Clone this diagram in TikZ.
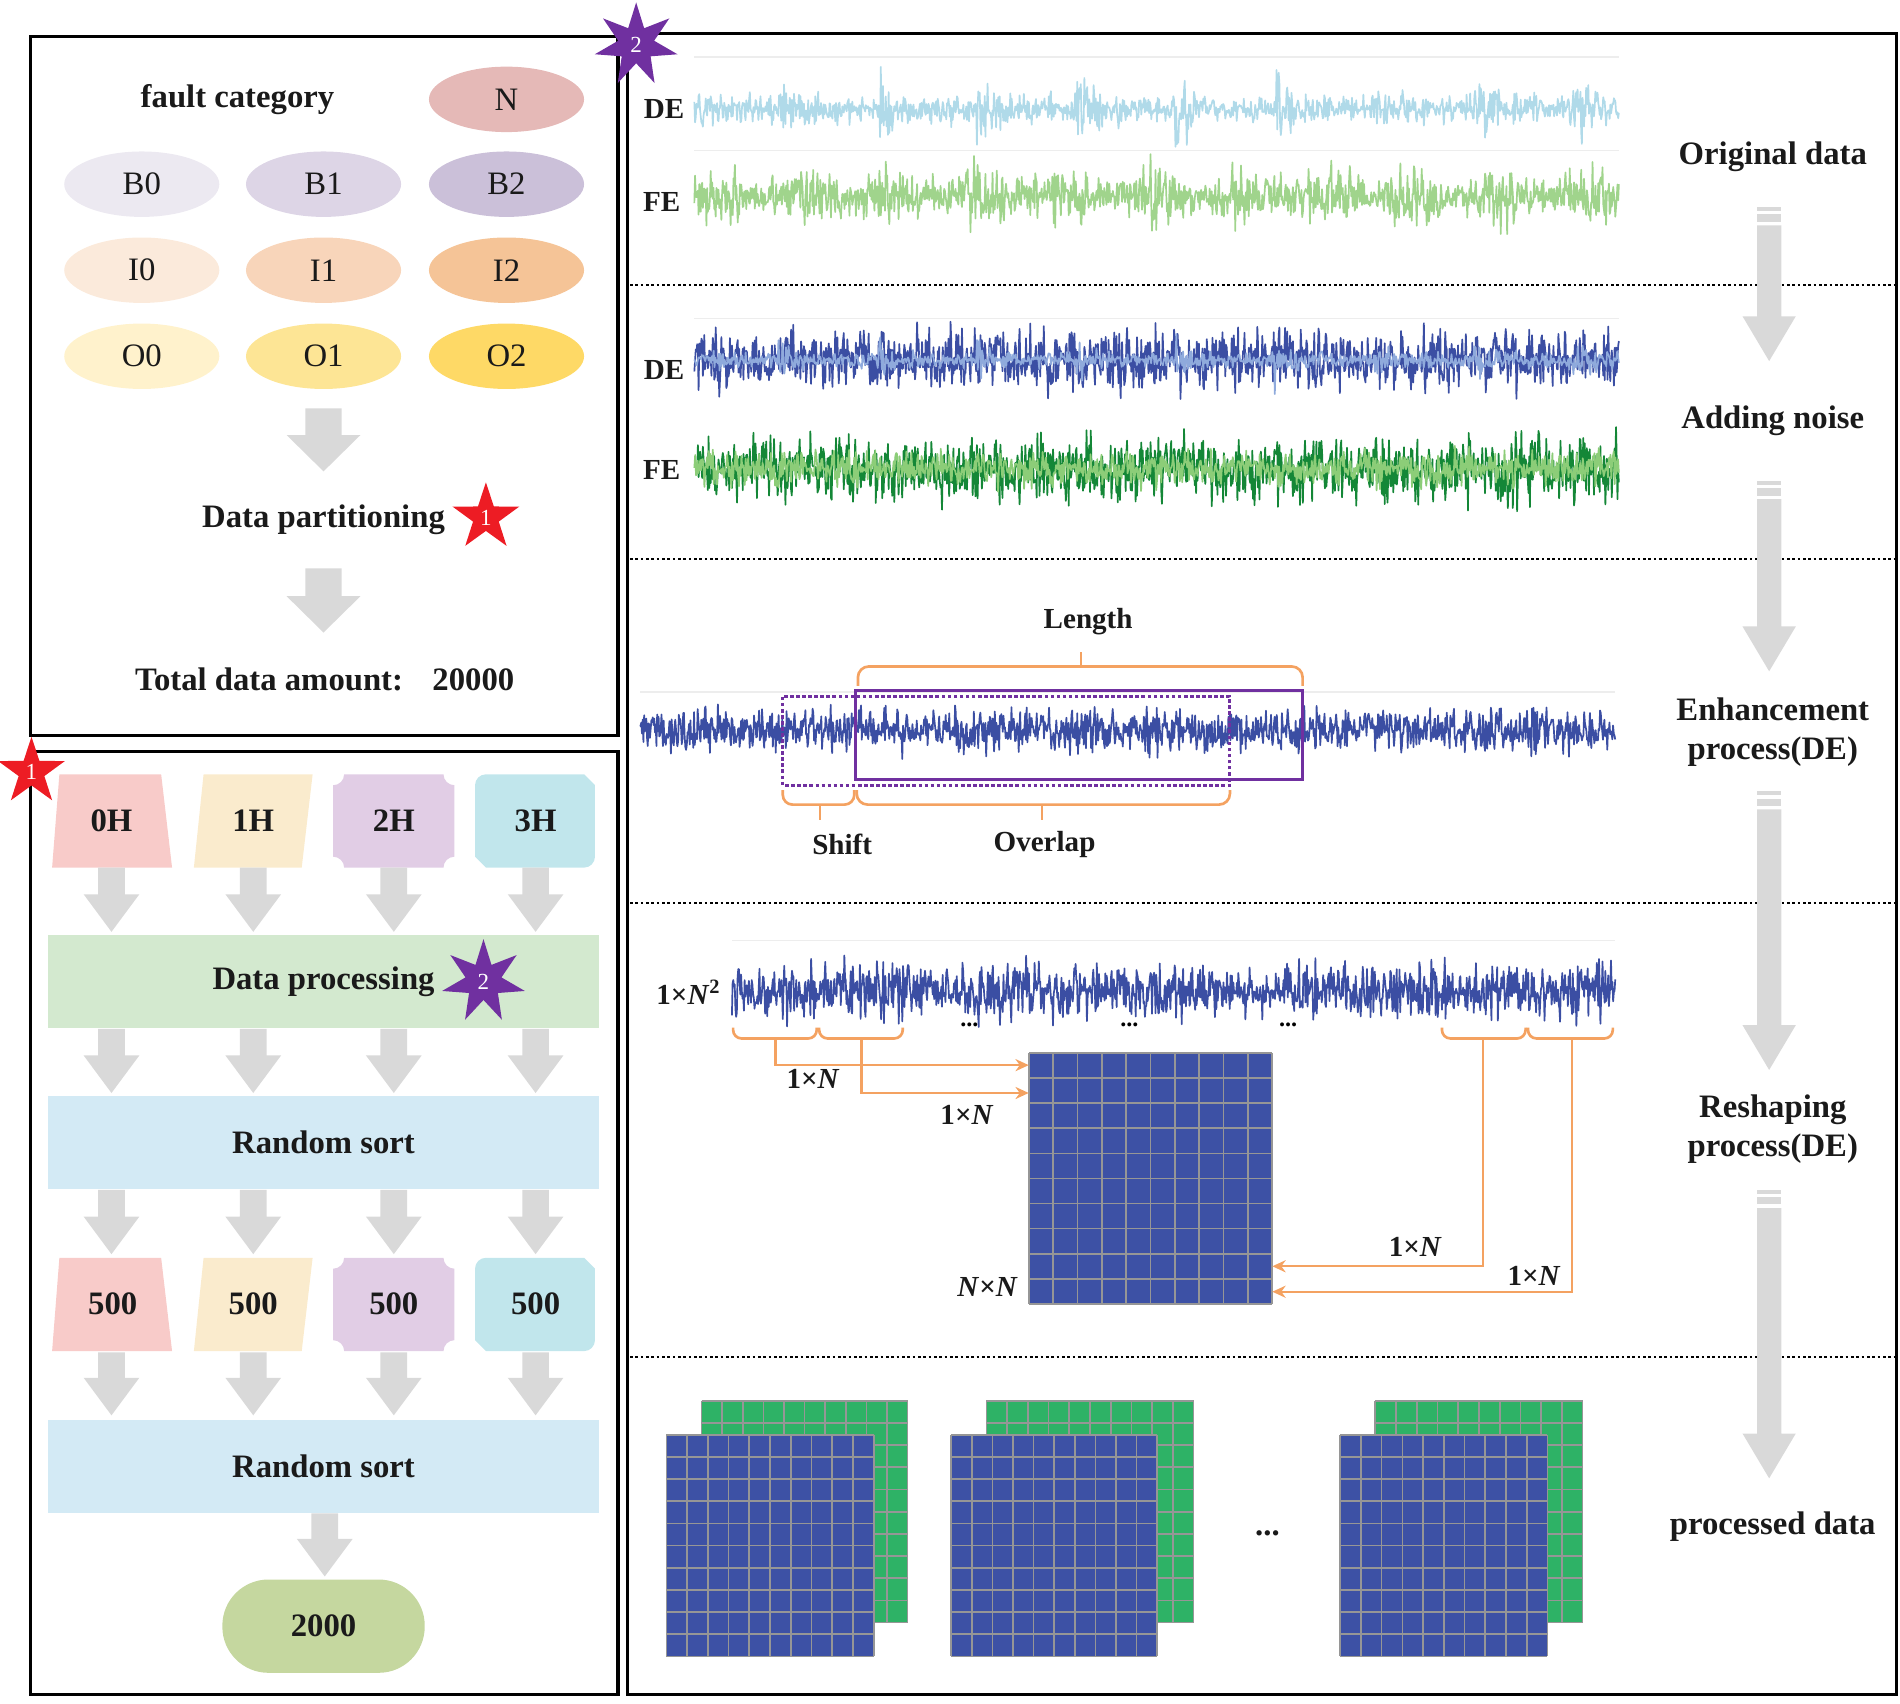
\documentclass[tikz,border=0pt]{standalone}
\usepackage{fontspec}
\setmainfont{Liberation Serif}
\usetikzlibrary{shapes.geometric,arrows.meta,calc}
\definecolor{cN}{RGB}{229,185,183}
\definecolor{cBa}{RGB}{236,233,241}
\definecolor{cBb}{RGB}{221,213,230}
\definecolor{cBc}{RGB}{203,192,217}
\definecolor{cIa}{RGB}{251,234,219}
\definecolor{cIb}{RGB}{248,213,186}
\definecolor{cIc}{RGB}{245,196,151}
\definecolor{cOa}{RGB}{255,242,204}
\definecolor{cOb}{RGB}{253,229,149}
\definecolor{cOc}{RGB}{254,217,102}
\definecolor{cHa}{RGB}{248,203,201}
\definecolor{cHb}{RGB}{250,235,205}
\definecolor{cHc}{RGB}{225,205,229}
\definecolor{cHd}{RGB}{193,230,236}
\definecolor{cbarG}{RGB}{211,233,207}
\definecolor{cbarB}{RGB}{211,234,245}
\definecolor{cTwoK}{RGB}{197,215,159}
\definecolor{garrowc}{RGB}{217,217,217}
\definecolor{cDEo}{RGB}{176,218,233}
\definecolor{cFEo}{RGB}{160,212,140}
\definecolor{cblue}{RGB}{59,78,163}
\definecolor{cblueL}{RGB}{143,170,220}
\definecolor{cgreenD}{RGB}{20,135,55}
\definecolor{cgreenL}{RGB}{140,205,120}
\definecolor{corange}{RGB}{244,162,97}
\definecolor{cpurple}{RGB}{112,48,160}
\definecolor{cred}{RGB}{237,28,36}
\definecolor{cgridB}{RGB}{61,81,165}
\definecolor{cgridG}{RGB}{46,178,102}
\definecolor{cgridline}{RGB}{150,150,150}
\definecolor{ctext}{RGB}{26,26,26}
\newcommand\ftlarge{\fontsize{27}{32}\selectfont}
\newcommand\ftmid{\fontsize{24}{28}\selectfont}
\newcommand\ftstar{\fontsize{19}{19}\selectfont}
% block arrow: x, ytop, ytip, shaft width, head width, head length
\newcommand\garrowshape[6]{\fill[garrowc] (#1-#4/2,#2) -- (#1+#4/2,#2) -- (#1+#4/2,#3-#6) -- (#1+#5/2,#3-#6) -- (#1,#3) -- (#1-#5/2,#3-#6) -- (#1-#4/2,#3-#6) -- cycle;}
% striped right arrow: ytop, ytip
\newcommand\rarrowshape[2]{%
  \fill[garrowc] (1450,#1) rectangle (1470,#1+3);
  \fill[garrowc] (1450,#1+6) rectangle (1470,#1+12);
  \garrowshape{1460}{#1+15}{#2}{20}{44}{37}}
% plaque with concave corners: x1,y1,x2,y2,r,color
\newcommand\plaqueshape[6]{\fill[#6] (#1+#5,#2) -- (#3-#5,#2) .. controls (#3-#5,#2+0.55*#5) and (#3-0.55*#5,#2+#5) .. (#3,#2+#5) -- (#3,#4-#5) .. controls (#3-0.55*#5,#4-#5) and (#3-#5,#4-0.55*#5) .. (#3-#5,#4) -- (#1+#5,#4) .. controls (#1+#5,#4-0.55*#5) and (#1+0.55*#5,#4-#5) .. (#1,#4-#5) -- (#1,#2+#5) .. controls (#1+0.55*#5,#2+#5) and (#1+#5,#2+0.55*#5) .. (#1+#5,#2) -- cycle;}
% snipped/rounded box: x1,y1,x2,y2,r,color
\newcommand\snipshape[6]{\fill[#6] (#1+#5,#2) -- (#3-#5,#2) -- (#3,#2+#5) -- (#3,#4-#5) .. controls (#3,#4-0.45*#5) and (#3-0.45*#5,#4) .. (#3-#5,#4) -- (#1+#5,#4) -- (#1,#4-#5) -- (#1,#2+#5) .. controls (#1,#2+0.45*#5) and (#1+0.45*#5,#2) .. (#1+#5,#2) -- cycle;}
% grid matrix: x1,y1,x2,y2,color
\newcommand\gridmat[5]{%
  \fill[#5] (#1,#2) rectangle (#3,#4);
  \foreach \gi in {0,...,10}{%
    \draw[cgridline,line width=1.4] ({#1+\gi*(#3-#1)/10},#2) -- ({#1+\gi*(#3-#1)/10},#4);
    \draw[cgridline,line width=1.4] (#1,{#2+\gi*(#4-#2)/10}) -- (#3,{#2+\gi*(#4-#2)/10});}}
\begin{document}
\begin{tikzpicture}[x=1pt,y=-1pt,
  boxline/.style={draw=black,line width=2.5},
  ell/.style={ellipse,minimum width=128,minimum height=54,inner sep=0,font=\ftlarge,text=ctext},
  lbl/.style={font=\ftlarge\bfseries,text=ctext,inner sep=0},
  sml/.style={font=\ftmid\bfseries,text=ctext,inner sep=0},
  bar/.style={minimum width=454,minimum height=77,inner sep=0,font=\ftlarge\bfseries,text=ctext},
  redstar/.style={star,star points=5,star point ratio=2.6,minimum size=58,inner sep=0,fill=cred,text=white,font=\ftstar},
  purplestar/.style={star,star points=7,star point ratio=2.3,minimum size=70,inner sep=0,fill=cpurple,text=white,font=\ftstar},
  dotline/.style={draw=black,line width=1.8,dash pattern=on 2.2pt off 2.2pt},
  faint/.style={draw=black!7,line width=1},
  sig/.style={line width=1.4,line join=round},
  brace/.style={draw=corange,line width=2.2,rounded corners=9},
  oline/.style={draw=corange,line width=1.8},
  oarrow/.style={draw=corange,line width=1.8,-{Stealth[length=11pt,width=10pt]}}
]
\useasboundingbox (0,0) rectangle (1568,1406);
\pgfmathsetseed{4242}

% ---------------- top-left box ----------------
\draw[boxline] (25,30) rectangle (510,607);
\node[lbl] (fc) at (196,82) {fault category};
\node[ell,fill=cN] (eN) at (418,82) {N};
\node[ell,fill=cBa] (eB0) at (117,152) {B0};
\node[ell,fill=cBb] (eB1) at (267,152) {B1};
\node[ell,fill=cBc] (eB2) at (418,152) {B2};
\node[ell,fill=cIa] (eI0) at (117,223) {I0};
\node[ell,fill=cIb] (eI1) at (267,223) {I1};
\node[ell,fill=cIc] (eI2) at (418,223) {I2};
\node[ell,fill=cOa] (eO0) at (117,294) {O0};
\node[ell,fill=cOb] (eO1) at (267,294) {O1};
\node[ell,fill=cOc] (eO2) at (418,294) {O2};
\garrowshape{267}{337}{389}{30}{61}{30}
\node[lbl] (dpart) at (267,429) {Data partitioning};
\node[redstar] (star1a) at (401,427) {1};
\garrowshape{267}{469}{522}{30}{61}{30}
\node[lbl] (total) at (268,561) {Total data amount:\hspace{0.9em}20000};

% ---------------- bottom-left box ----------------
\draw[boxline] (25,620) rectangle (510,1398);
% row 1 shapes
\fill[cHa] (49,639) -- (133,639) -- (142,716) -- (43,716) -- cycle;
\node[lbl] (h0) at (92,677) {0H};
\fill[cHb] (168,639) -- (258,639) -- (249,716) -- (160,716) -- cycle;
\node[lbl] (h1) at (209,677) {1H};
\plaqueshape{275}{639}{375}{716}{9}{cHc}
\node[lbl] (h2) at (325,677) {2H};
\snipshape{392}{639}{491}{716}{9}{cHd}
\node[lbl] (h3) at (442,677) {3H};
\foreach \ax in {92,209,325,442}{
  \garrowshape{\ax}{716}{769}{22}{46}{31}
  \garrowshape{\ax}{849}{902}{22}{46}{31}
  \garrowshape{\ax}{982}{1035}{22}{46}{31}
  \garrowshape{\ax}{1116}{1168}{22}{46}{31}
}
\node[bar,fill=cbarG] (dproc) at (267,810) {Data processing};
\node[purplestar] (star2a) at (399,810) {2};
\node[bar,fill=cbarB] (rs1) at (267,943) {Random sort};
% row 2 shapes
\fill[cHa] (49,1038) -- (133,1038) -- (142,1115) -- (43,1115) -- cycle;
\node[lbl] (f0) at (93,1076) {500};
\fill[cHb] (168,1038) -- (258,1038) -- (249,1115) -- (160,1115) -- cycle;
\node[lbl] (f1) at (209,1076) {500};
\plaqueshape{275}{1038}{375}{1115}{9}{cHc}
\node[lbl] (f2) at (325,1076) {500};
\snipshape{392}{1038}{491}{1115}{9}{cHd}
\node[lbl] (f3) at (442,1076) {500};
\node[bar,fill=cbarB] (rs2) at (267,1210) {Random sort};
\garrowshape{268}{1249}{1301}{22}{46}{31}
\node[fill=cTwoK,rounded corners=38,minimum width=167,minimum height=77,inner sep=0,font=\ftlarge\bfseries,text=ctext] (tot2k) at (267,1342) {2000};
\node[redstar] (star1b) at (26,637) {1};

% ---------------- right box ----------------
\draw[boxline] (518,28) rectangle (1565,1398);
\foreach \dy in {235,461,745,1120}{\draw[dotline] (520,\dy) -- (1563,\dy);}

% original data
\draw[faint] (573,47) -- (1336,47);
\draw[faint] (573,124) -- (1336,124);
\draw[sig,cDEo] plot[domain=573:1336,samples=1300] (\x,{90+(11+24*exp(-mod(\x-560,82)/11))*(rand+rand+rand)/2});
\draw[sig,cFEo] plot[domain=573:1336,samples=1300] (\x,{162+(10+3*sin(\x*5))*(rand+rand+rand)});
\node[sml] (de1) at (548,90) {DE};
\node[sml] (fe1) at (546,167) {FE};

% adding noise
\draw[faint] (573,263) -- (1336,263);
\draw[sig,cblue] plot[domain=573:1336,samples=1300] (\x,{297+12*(rand+rand+rand)});
\draw[sig,cblueL] plot[domain=573:1336,samples=1100] (\x,{297+(6+16*exp(-mod(\x-560,82)/10))*(rand+rand+rand)/2});
\draw[sig,cgreenD] plot[domain=573:1336,samples=1300] (\x,{387+13*(rand+rand+rand)});
\draw[sig,cgreenL] plot[domain=573:1336,samples=1100] (\x,{387+7*(rand+rand+rand)});
\node[sml] (de2) at (548,305) {DE};
\node[sml] (fe2) at (546,388) {FE};

% enhancement
\draw[faint] (528,571) -- (1333,571);
\draw[sig,cblue] plot[domain=528:1333,samples=1350] (\x,{603+8.5*(rand+rand+rand)});
\draw[cpurple,line width=2.5,dash pattern=on 3pt off 2pt] (646,575) rectangle (1015,648);
\draw[cpurple,line width=2.5] (706,570) rectangle (1075,643);
\draw[brace] (708,566) -- (708,550) -- (1075,550) -- (1075,566);
\coordinate (lenc) at (892,550);
\coordinate (lent) at (892,538);
\draw[oline] (lenc) -- (lent);
\node[sml] (lenlbl) at (898,513) {Length};
\draw[brace,rounded corners=8] (646,652) -- (646,664) -- (705,664) -- (705,652);
\draw[brace] (707,652) -- (707,664) -- (1015,664) -- (1015,652);
\coordinate (shc) at (677,664);
\coordinate (sht) at (677,677);
\coordinate (ovc) at (860,664);
\coordinate (ovt) at (860,677);
\draw[oline] (shc) -- (sht);
\draw[oline] (ovc) -- (ovt);
\node[sml] (shlbl) at (695,697) {Shift};
\node[sml] (ovlbl) at (862,697) {Overlap};

% reshaping
\draw[faint] (604,776) -- (1333,776);
\draw[sig,cblue] plot[domain=604:1333,samples=1250] (\x,{818+11*(rand+rand+rand)});
\node[sml] (nsq) at (568,819) {1×\textit{N}\textsuperscript{2}};
\foreach \ba/\bb in {605/674,676/745,1190/1259,1261/1331}{
  \draw[brace,rounded corners=7] (\ba,848) -- (\ba,857) -- (\bb,857) -- (\bb,848);}
\node[font=\fontsize{20}{20}\selectfont\bfseries] (dt1) at (800,846) {...};
\node[font=\fontsize{20}{20}\selectfont\bfseries] (dt2) at (932,846) {...};
\node[font=\fontsize{20}{20}\selectfont\bfseries] (dt3) at (1063,846) {...};
\node[minimum width=201,minimum height=207,inner sep=0] (mat) at (949.5,972.5) {};
\gridmat{849}{869}{1050}{1076}{cgridB}
\coordinate (bc1) at (640,857);
\coordinate (bc2) at (711,857);
\coordinate (bc3) at (1224,857);
\coordinate (bc4) at (1297,857);
\coordinate (m1) at (849,879);
\coordinate (m2) at (849,902);
\coordinate (m3) at (1050,1045);
\coordinate (m4) at (1050,1066);
\draw[oarrow] (bc1) |- (m1);
\draw[oarrow] (bc2) |- (m2);
\draw[oarrow] (bc3) |- (m3);
\draw[oarrow] (bc4) |- (m4);
\node[sml] (l1) at (671,890) {1×\textit{N}};
\node[sml] (l2) at (798,920) {1×\textit{N}};
\node[sml] (l3) at (1168,1029) {1×\textit{N}};
\node[sml] (l4) at (1266,1053) {1×\textit{N}};
\node[sml] (lnn) at (815,1062) {\textit{N}×\textit{N}};

% processed data
\gridmat{579}{1156}{749}{1339}{cgridG}
\gridmat{550}{1184}{721}{1367}{cgridB}
\gridmat{814}{1156}{985}{1339}{cgridG}
\gridmat{785}{1184}{955}{1367}{cgridB}
\gridmat{1135}{1156}{1306}{1339}{cgridG}
\gridmat{1106}{1184}{1277}{1367}{cgridB}
\node[lbl] (dots4) at (1046,1265) {...};

% right column arrows and labels
\rarrowshape{171}{298}
\rarrowshape{397}{554}
\rarrowshape{653}{883}
\rarrowshape{982}{1220}
\node[lbl] (t1) at (1463,129) {Original data};
\node[lbl] (t2) at (1463,347) {Adding noise};
\node[lbl,align=center] (t3) at (1463,604) {Enhancement\\process(DE)};
\node[lbl,align=center] (t4) at (1463,932) {Reshaping\\process(DE)};
\node[lbl] (t5) at (1463,1260) {processed data};

\node[purplestar] (star2b) at (525,37) {2};
\end{tikzpicture}
\end{document}
